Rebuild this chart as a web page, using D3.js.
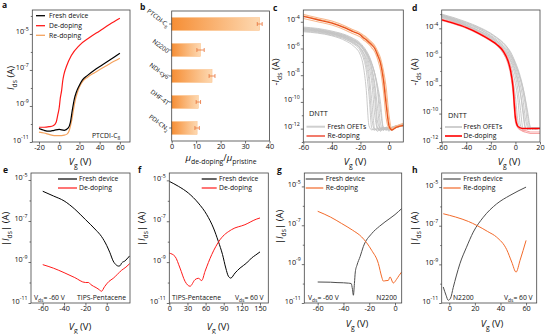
<!DOCTYPE html>
<html><head><meta charset="utf-8">
<script src="https://cdn.jsdelivr.net/npm/d3@7"></script>
<style>
body{margin:0;background:#fff;}
svg text{font-family:"Open Sans","Liberation Sans",Arial,sans-serif;fill:#111;}
</style></head><body>
<svg id="chart" width="550" height="334"></svg>
<script>
// ===================== DATA (log10 of current in A) =====================
// Panel a : PTCDI-C8
const aVgFresh = [-20,-15,-10,-5,0,5,9,11,13,15,17,19.5,23,28,35,41,50,60];
const aLogFresh = [-10.25,-10.35,-10.4,-10.35,-10.3,-10.35,-10.22,-9.92,-9.22,-8.6,-8.22,-7.9,-7.55,-7.3,-7.0,-6.78,-6.45,-6.07];
const aVgDe = [-20,-15,-10,-6,-3,-1.5,0,1,2.4,3.5,4.7,7.3,12,20,30,40,50,60];
const aLogDe = [-10.18,-10.18,-10.15,-10.1,-9.9,-9.52,-9.1,-8.6,-8.13,-7.6,-7.24,-6.78,-6.2,-5.63,-5.2,-4.83,-4.46,-4.13];
const aVgRe = [-20,-15,-10,-5,0,5,8,10,12,14,16,18,20,23,28,35,41,50,60];
const aLogRe = [-10.45,-10.5,-10.58,-10.65,-10.65,-10.62,-10.55,-10.35,-9.9,-9.25,-8.65,-8.25,-7.95,-7.65,-7.4,-7.15,-6.95,-6.65,-6.35];

// Panel b : mobility ratio
const bCats = ["PTCDI-C8","N2200","NDI-cy6","DHF-4T","PDI-CN2"];
const bRatio = [36,11.8,16.5,10.9,10.4];
const bErr = [1.0,1.5,1.2,0.9,0.9];
const bXTicks = [0,10,20,30,40];

// Panel c : DNTT fresh (grey) vs re-doping
const cVg = [-60,-50,-40,-30,-25,-20,-18,-16,-14,-12,-10,-8,-6,-4,-2,0,2,5,10];
const cLogFresh = [
 [-4.75,-4.85,-5.05,-5.45,-5.8,-6.5,-7.3,-9.0,-11.8,-12.1,-12.0,-12.2,-12.0,-12.1,-11.9,-12.0,-12.1,-11.9,-11.8],
 [-4.7,-4.8,-5.0,-5.35,-5.65,-6.2,-6.7,-7.6,-9.5,-12.0,-12.1,-11.9,-12.2,-12.0,-12.1,-11.9,-12.0,-11.9,-11.8],
 [-4.6,-4.7,-4.9,-5.25,-5.55,-6.05,-6.5,-7.2,-8.5,-11.2,-12.1,-12.0,-11.9,-12.1,-12.0,-12.2,-11.9,-11.9,-11.7],
 [-4.55,-4.65,-4.85,-5.2,-5.5,-5.95,-6.3,-6.9,-7.9,-10.0,-12.0,-12.1,-12.0,-11.9,-12.1,-12.0,-12.0,-11.8,-11.8],
 [-4.65,-4.75,-4.95,-5.3,-5.6,-6.0,-6.3,-6.7,-7.4,-8.6,-11.0,-12.0,-12.1,-12.0,-11.9,-12.0,-12.1,-11.9,-11.8],
 [-4.5,-4.6,-4.8,-5.1,-5.4,-5.8,-6.1,-6.5,-7.1,-8.0,-9.8,-12.0,-12.1,-11.9,-12.0,-12.1,-11.9,-11.8,-11.7],
 [-4.45,-4.55,-4.75,-5.05,-5.3,-5.7,-5.95,-6.3,-6.8,-7.6,-9.0,-11.5,-12.0,-12.1,-12.0,-11.9,-12.0,-11.8,-11.8],
 [-4.6,-4.7,-4.9,-5.2,-5.45,-5.8,-6.05,-6.4,-6.85,-7.5,-8.6,-10.5,-12.1,-12.0,-12.0,-12.1,-11.9,-11.9,-11.7],
 [-4.4,-4.5,-4.7,-5.0,-5.25,-5.6,-5.85,-6.15,-6.55,-7.1,-7.9,-9.2,-11.6,-12.1,-11.9,-12.0,-12.0,-11.8,-11.7],
 [-4.5,-4.6,-4.8,-5.1,-5.35,-5.7,-5.95,-6.25,-6.65,-7.2,-7.9,-9.0,-10.6,-12.0,-12.1,-11.9,-12.0,-11.9,-11.8],
 [-4.55,-4.65,-4.85,-5.15,-5.4,-5.75,-6.0,-6.3,-6.7,-7.2,-7.85,-8.8,-10.0,-11.9,-12.0,-12.1,-11.9,-11.8,-11.7]
];
const cLogReBand = [
 [-3.45,-3.7,-3.95,-4.35,-4.6,-4.85,-5.0,-5.15,-5.35,-5.55,-5.8,-6.2,-6.7,-7.6,-8.9,-11.0,-12.0,-11.9,-11.7],
 [-3.75,-4.0,-4.25,-4.65,-4.9,-5.15,-5.35,-5.5,-5.7,-5.95,-6.25,-6.8,-7.6,-9.1,-11.2,-12.0,-12.1,-11.8,-11.8],
 [-3.55,-3.8,-4.05,-4.45,-4.7,-4.95,-5.1,-5.25,-5.45,-5.65,-5.9,-6.35,-6.9,-7.9,-9.6,-11.5,-12.0,-11.8,-11.6]
];
const cLogRe = [-3.6,-3.85,-4.1,-4.5,-4.75,-5.0,-5.2,-5.35,-5.55,-5.75,-6.0,-6.5,-7.1,-8.3,-10.2,-11.8,-12.1,-11.9,-11.75];

// Panel d : DNTT fresh (grey) vs de-doping
const dVg = [-60,-50,-40,-30,-20,-15,-10,-6,-4,-2,0,2,4,6,8,10,12,14,16,20];
const dLogFresh = [
 [-3.25,-3.55,-3.9,-4.3,-4.8,-5.2,-5.75,-6.4,-6.9,-7.7,-8.8,-10.5,-11.0,-11.1,-11.0,-11.1,-11.0,-11.1,-11.0,-11.05],
 [-3.2,-3.5,-3.85,-4.25,-4.75,-5.1,-5.6,-6.15,-6.55,-7.15,-7.9,-9.0,-10.8,-11.1,-11.0,-11.1,-11.0,-11.0,-11.1,-11.0],
 [-3.1,-3.4,-3.75,-4.15,-4.65,-5.0,-5.45,-5.95,-6.3,-6.8,-7.4,-8.3,-9.6,-11.0,-11.1,-11.0,-11.1,-11.0,-11.0,-11.05],
 [-3.05,-3.35,-3.7,-4.05,-4.55,-4.9,-5.3,-5.75,-6.05,-6.45,-6.95,-7.6,-8.5,-9.9,-11.0,-11.1,-11.0,-11.1,-11.0,-11.0],
 [-3.15,-3.45,-3.8,-4.15,-4.6,-4.9,-5.25,-5.65,-5.95,-6.3,-6.75,-7.3,-8.0,-8.9,-10.3,-11.0,-11.1,-11.0,-11.0,-11.05],
 [-3.05,-3.3,-3.6,-3.95,-4.4,-4.7,-5.05,-5.45,-5.75,-6.1,-6.5,-7.0,-7.6,-8.4,-9.4,-10.8,-11.1,-11.0,-11.1,-11.0],
 [-3.0,-3.25,-3.55,-3.9,-4.35,-4.65,-5.0,-5.4,-5.65,-6.0,-6.4,-6.85,-7.4,-8.1,-9.0,-10.2,-11.1,-11.0,-11.1,-11.0],
 [-3.1,-3.35,-3.65,-4.0,-4.5,-4.8,-5.15,-5.55,-5.85,-6.2,-6.6,-7.05,-7.55,-8.15,-8.95,-9.9,-10.9,-11.1,-11.0,-11.0],
 [-3.15,-3.45,-3.8,-4.2,-4.7,-5.0,-5.4,-5.85,-6.2,-6.6,-7.1,-7.8,-8.6,-9.6,-10.9,-11.1,-11.0,-11.1,-11.0,-11.0]
];
const dLogDeBand = [
 [-3.35,-3.6,-3.9,-4.3,-4.8,-5.1,-5.5,-6.1,-6.7,-7.7,-9.6,-10.9,-11.1,-11.2,-11.2,-11.25,-11.3,-11.3,-11.3,-11.3],
 [-3.45,-3.7,-4.0,-4.4,-4.9,-5.2,-5.7,-6.5,-7.2,-8.5,-10.6,-11.0,-11.15,-11.25,-11.3,-11.35,-11.4,-11.4,-11.4,-11.4]
];
const dLogDe = [-3.4,-3.65,-3.95,-4.35,-4.85,-5.15,-5.6,-6.3,-6.95,-8.1,-10.3,-10.9,-11.0,-11.05,-11.05,-11.05,-11.05,-11.05,-11.05,-11.05];

// Panel e : TIPS-Pentacene, Vds=-60 V
const eVgFresh = [-60,-50,-40,-30,-20,-10,-5,0,3,6,9,11,12.5,14,17,19,21.5];
const eLogFresh = [-5.55,-5.78,-6.02,-6.42,-6.93,-7.45,-7.75,-8.2,-8.55,-8.95,-9.15,-9.2,-9.18,-9.05,-8.95,-8.85,-8.7];
const eVgDe = [-60,-50,-40,-30,-20,-17,-15,-10,-7,-5,-2,2,6,10,14,18,21.5];
const eLogDe = [-9.13,-9.3,-9.52,-9.76,-10.0,-10.0,-10.1,-10.25,-10.35,-10.43,-10.2,-9.95,-9.8,-9.6,-9.4,-9.25,-9.08];

// Panel f : TIPS-Pentacene, Vds=60 V
const fVgFresh = [0,15,31.5,48,62,73,81,88,93.4,97.7,101.6,108.8,117,128,136,143,150];
const fLogFresh = [-5.05,-5.29,-5.62,-6.11,-6.68,-7.33,-7.98,-8.63,-9.29,-9.69,-9.78,-9.53,-9.29,-9.04,-8.8,-8.65,-8.5];
const fVgDe = [0,9.4,17.7,26,34.3,42.5,48,53.6,59.1,70.2,84,103,125,144.7,150];
const fLogDe = [-8.56,-8.72,-9.29,-9.94,-10.18,-9.86,-9.79,-9.9,-9.45,-8.63,-7.9,-7.41,-7.17,-6.89,-6.84];

// Panel g : N2200, Vds=-60 V
const gVgFresh = [-60,-50,-45,-40,-36,-34,-33,-32.3,-31.5,-30.8,-29.5,-27,-24.6,-18.1,-12,-7.8,0,5.2];
const gLogFresh = [-9.92,-9.93,-9.95,-9.96,-9.98,-10.0,-10.3,-10.6,-10.0,-9.4,-9.05,-8.6,-8.1,-7.43,-7.05,-6.83,-6.45,-6.14];
const gVgRe = [-60,-50,-41.4,-33,-25.9,-18.1,-12.9,-10.3,-9.1,-7,-5.2,-3.9,-1.3,1,3,5.2];
const gLogRe = [-6.28,-6.58,-6.91,-7.25,-7.6,-8.29,-8.97,-9.66,-9.87,-9.85,-9.84,-9.66,-9.97,-9.8,-9.6,-9.4];

// Panel h : N2200, Vds=60 V
const hVgFresh = [-4.7,-2.5,-0.8,1,3.1,5.5,8.3,13.5,18.75,26.6,37,47.4,60];
const hLogFresh = [-10.17,-10.6,-10.86,-10.75,-10.2,-9.6,-8.97,-8.11,-7.33,-6.56,-5.87,-5.43,-5.0];
const hVgRe = [-4.7,5,15,21.4,30,37,44.9,48.8,52.2,55.3,60];
const hLogRe = [-6.38,-6.55,-6.78,-6.98,-7.3,-7.59,-8.24,-8.88,-9.4,-8.79,-7.76];

// ===================== DRAWING =====================
const svg = d3.select("#chart");
const defs = svg.append("defs");
let clipN = 0;
const TICK_FS = 7.3;

function rich(sel, parts, size){
  let shift = 0;
  parts.forEach(p => {
    const s = Array.isArray(p) ? p[0] : p;
    const k = Array.isArray(p) ? p[1] : "";
    let target = 0, fs = size;
    if (k.includes("sub")) { target = size*0.3; fs = size*0.72; }
    if (k.includes("sup")) { target = -size*0.45; fs = size*0.72; }
    const t = sel.append("tspan").text(s).attr("font-size", fs).attr("dy", (target - shift).toFixed(2));
    if (k.includes("i")) t.attr("font-style","italic");
    shift = target;
  });
}

function styleAxis(ax){
  ax.attr("font-family", null).attr("font-size", null);
  ax.select(".domain").remove();
  ax.selectAll(".tick line").attr("stroke","#333").attr("stroke-width",0.7);
  ax.selectAll(".tick text").attr("font-size",TICK_FS).attr("fill","#111");
}

function panel(o){
  const x = d3.scaleLinear().domain(o.xd).range(o.xr);
  const y = d3.scaleLog().domain([Math.pow(10,o.yd[0]), Math.pow(10,o.yd[1])]).range([o.yr[1], o.yr[0]]);
  const g = svg.append("g");
  const id = "clip" + (clipN++);
  defs.append("clipPath").attr("id", id).append("rect")
    .attr("x", o.xr[0]).attr("y", o.yr[0]).attr("width", o.xr[1]-o.xr[0]).attr("height", o.yr[1]-o.yr[0]);
  const plot = g.append("g").attr("clip-path", `url(#${id})`);
  const xa = g.append("g").attr("transform", `translate(0,${o.yr[1]})`)
    .call(d3.axisBottom(x).tickValues(o.xt).tickSize(2.5).tickPadding(0.8).tickFormat(d => String(d)));
  styleAxis(xa);
  const ya = g.append("g").attr("transform", `translate(${o.xr[0]},0)`)
    .call(d3.axisLeft(y).tickValues(o.yt.map(e => Math.pow(10,e))).tickSize(2.5).tickPadding(1));
  styleAxis(ya);
  ya.selectAll(".tick text").each(function(d, i){
    const t = d3.select(this); t.text(null);
    rich(t, ["10", [String(o.yt[i]), "sup"]], TICK_FS);
  });
  if (o.ym) {
    const ym = g.append("g").attr("transform", `translate(${o.xr[0]},0)`)
      .call(d3.axisLeft(y).tickValues(o.ym.map(e => Math.pow(10,e))).tickSize(1.5).tickFormat(""));
    styleAxis(ym);
  }
  g.append("rect").attr("x", o.xr[0]).attr("y", o.yr[0])
    .attr("width", o.xr[1]-o.xr[0]).attr("height", o.yr[1]-o.yr[0])
    .attr("fill","none").attr("stroke","#444").attr("stroke-width",0.8);
  return {x, y, g, plot};
}

function curve(P, vg, logs, color, w, op){
  const pts = vg.map((v, i) => [v, logs[i]]);
  const line = d3.line().x(d => P.x(d[0])).y(d => P.y(Math.pow(10, d[1]))).curve(d3.curveMonotoneX);
  P.plot.append("path").datum(pts).attr("d", line)
    .attr("fill","none").attr("stroke", color).attr("stroke-width", w)
    .attr("stroke-opacity", op == null ? 1 : op).attr("stroke-linejoin","round");
}

function label(x, y, parts, size, opts){
  opts = opts || {};
  const t = svg.append("text").attr("x", x).attr("y", y).attr("font-size", size)
    .attr("text-anchor", opts.anchor || "start");
  if (opts.bold) t.attr("font-weight","bold");
  rich(t, parts, size);
  return t;
}
function vlabel(x, y, parts, size){
  const t = svg.append("text").attr("transform", `translate(${x},${y}) rotate(-90)`)
    .attr("font-size", size).attr("text-anchor","middle");
  rich(t, parts, size);
}
function legendItem(x0, x1, tx, y, color, w, text){
  svg.append("line").attr("x1", x0).attr("x2", x1).attr("y1", y).attr("y2", y)
    .attr("stroke", color).attr("stroke-width", w);
  label(tx, y + 2.4, [text], 6.8);
}

const IDS = [["I","i"],["ds","sub"]," (A)"];
const MIDS = ["-",["I","i"],["ds","sub"]," (A)"];
const ABSIDS = ["|",["I","i"],["ds","sub"],"| (A)"];
const VG = [["V","i"],["g","sub"]," (V)"];

// ---- panel letters
[["a",2,8],["b",140,10],["c",273,11],["d",412,11],["e",3,173],["f",138,173],["g",277,173],["h",412,173]]
  .forEach(([s,x,y]) => label(x, y, [s], 8.5, {bold:true}));

// ---- Panel a
const PA = panel({xr:[32.3,130], yr:[10,142], xd:[-26.6,70], yd:[-11,-3.67], xt:[-20,0,20,40,60], yt:[-11,-9,-7,-5], ym:[-10,-8,-6,-4]});
curve(PA, aVgRe, aLogRe, "#f5a35e", 1.2);
curve(PA, aVgFresh, aLogFresh, "#000", 1.2);
curve(PA, aVgDe, aLogDe, "#ff1a1a", 1.2);
legendItem(36, 45, 49, 15.7, "#000", 1.3, "Fresh device");
legendItem(36, 45, 49, 25.7, "#ff1a1a", 1.3, "De-doping");
legendItem(36, 45, 49, 35.3, "#f5a35e", 1.3, "Re-doping");
label(92, 137.5, ["PTCDI-C",["8","sub"]], 6.8);
vlabel(14, 78, IDS, 9.5);
label(80, 165, VG, 9.5, {anchor:"middle"});

// ---- Panel b
const bx = d3.scaleLinear().domain([0,40]).range([171.7,269.5]);
const by = d3.scaleBand().domain(bCats).range([11,141]).paddingInner(0.5).paddingOuter(0.25);
const grad = defs.append("linearGradient").attr("id","barGrad").attr("x1","0%").attr("x2","100%");
grad.append("stop").attr("offset","0%").attr("stop-color","#f68e35");
grad.append("stop").attr("offset","100%").attr("stop-color","#fdd9b2");
const gb = svg.append("g");
gb.selectAll("rect.bar").data(bCats).enter().append("rect").attr("class","bar")
  .attr("x", bx(0)).attr("y", d => by(d)).attr("height", by.bandwidth())
  .attr("width", (d,i) => bx(bRatio[i]) - bx(0))
  .attr("fill","url(#barGrad)").attr("stroke","#fbbf86").attr("stroke-width",0.5);
bCats.forEach((c, i) => {
  const cy = by(c) + by.bandwidth()/2;
  const xl = bx(bRatio[i]-bErr[i]), xr = bx(bRatio[i]+bErr[i]);
  gb.append("line").attr("x1", xl).attr("x2", xr).attr("y1", cy).attr("y2", cy).attr("stroke","#e8733a").attr("stroke-width",0.8);
  [xl, xr].forEach(xx => gb.append("line").attr("x1", xx).attr("x2", xx).attr("y1", cy-2).attr("y2", cy+2).attr("stroke","#e8733a").attr("stroke-width",0.8));
});
const bxa = gb.append("g").attr("transform","translate(0,141)")
  .call(d3.axisBottom(bx).tickValues(bXTicks).tickSize(2.5).tickPadding(0.8));
styleAxis(bxa);
const bya = gb.append("g").attr("transform",`translate(${bx(0)},0)`)
  .call(d3.axisLeft(by).tickSize(2.5).tickFormat(""));
styleAxis(bya);
gb.append("rect").attr("x", bx(0)).attr("y", 11).attr("width", bx(40)-bx(0)).attr("height", 130)
  .attr("fill","none").attr("stroke","#444").attr("stroke-width",0.8);
const bLabelParts = [["PTCDI-C",["8","sub"]],["N2200"],["NDI-cy6"],["DHF-4T"],["PDI-CN",["2","sub"]]];
bCats.forEach((c, i) => {
  const cy = by(c) + by.bandwidth()/2;
  const t = svg.append("text").attr("transform", `translate(167,${cy+3.5}) rotate(37)`)
    .attr("font-size", 6.2).attr("text-anchor","end");
  rich(t, bLabelParts[i], 6.2);
});
label(221, 161, [["μ","i"],["de-doping","sub"],"/",["μ","i"],["pristine","sub"]], 9.5, {anchor:"middle"});

// ---- Panel c
const PC = panel({xr:[303.3,403.3], yr:[10,142], xd:[-60,10], yd:[-13,-3.12], xt:[-60,-40,-20,0], yt:[-12,-10,-8,-6,-4], ym:[-13,-11,-9,-7,-5]});
cLogFresh.forEach(arr => curve(PC, cVg, arr, "#c4c4c4", 0.9));
cLogReBand.forEach(arr => curve(PC, cVg, arr, "#f8b98f", 1.1));
curve(PC, cVg, cLogRe, "#e8531c", 1.3);
label(309, 116, ["DNTT"], 7.3);
legendItem(306.5, 325, 327.5, 126.7, "#cfcfcf", 2, "Fresh OFETs");
legendItem(306.5, 325, 327.5, 136, "#f27b6b", 2, "Re-doping");
vlabel(279, 72, MIDS, 9.5);
label(355, 165, VG, 9.5, {anchor:"middle"});

// ---- Panel d
const PD = panel({xr:[441.7,540], yr:[10,142], xd:[-60,20], yd:[-12,-2.71], xt:[-60,-40,-20,0,20], yt:[-12,-10,-8,-6,-4], ym:[-11,-9,-7,-5,-3]});
dLogFresh.forEach(arr => curve(PD, dVg, arr, "#c4c4c4", 0.9));
dLogDeBand.forEach(arr => curve(PD, dVg, arr, "#f7a5a5", 1.1));
curve(PD, dVg, dLogDe, "#ff0000", 1.4);
label(448, 117.5, ["DNTT"], 7.3);
legendItem(445, 462, 463.5, 127, "#cfcfcf", 2, "Fresh OFETs");
legendItem(445, 462, 463.5, 136, "#ff0000", 1.6, "De-doping");
vlabel(418, 72, MIDS, 9.5);
label(509, 165, VG, 9.5, {anchor:"middle"});

// ---- Panel e
const PE = panel({xr:[31,130], yr:[173,303], xd:[-71,21.8], yd:[-11,-4.66], xt:[-60,-40,-20,0], yt:[-11,-9,-7,-5], ym:[-10,-8,-6]});
curve(PE, eVgFresh, eLogFresh, "#000", 1);
curve(PE, eVgDe, eLogDe, "#ff1a1a", 1);
legendItem(58, 77, 79, 179, "#000", 1.2, "Fresh device");
legendItem(58, 77, 79, 188, "#ff1a1a", 1.2, "De-doping");
label(34, 299.5, [["V",""],["ds","sub"],"= -60 V"], 6.8);
label(77, 299.5, ["TIPS-Pentacene"], 6.8);
vlabel(9, 229, ABSIDS, 9.5);
label(80, 330, VG, 9.5, {anchor:"middle"});

// ---- Panel f
const PF = panel({xr:[169.3,268.3], yr:[173,303], xd:[0,163.7], yd:[-11,-4.64], xt:[0,30,60,90,120,150], yt:[-11,-9,-7,-5], ym:[-10,-8,-6]});
curve(PF, fVgFresh, fLogFresh, "#000", 1);
curve(PF, fVgDe, fLogDe, "#ff1a1a", 1);
legendItem(201.7, 216.7, 219, 179, "#000", 1.2, "Fresh device");
legendItem(201.7, 216.7, 219, 188, "#ff1a1a", 1.2, "De-doping");
label(172, 299.5, ["TIPS-Pentacene"], 6.8);
label(235, 299.5, [["V",""],["ds","sub"],"= 60 V"], 6.8);
vlabel(145, 229, ABSIDS, 9.5);
label(218, 330, VG, 9.5, {anchor:"middle"});

// ---- Panel g
const PG = panel({xr:[304.3,401.7], yr:[173,303], xd:[-70.4,5.2], yd:[-11,-4.31], xt:[-60,-40,-20,0], yt:[-11,-9,-7,-5], ym:[-10,-8,-6]});
curve(PG, gVgFresh, gLogFresh, "#4d4d4d", 1);
curve(PG, gVgRe, gLogRe, "#f26a2a", 1);
legendItem(305.7, 323.3, 325.7, 179, "#4d4d4d", 1.2, "Fresh device");
legendItem(305.7, 323.3, 325.7, 188, "#f26a2a", 1.2, "Re-doping");
label(308, 299.5, [["V",""],["ds","sub"],"= -60 V"], 6.8);
label(397, 299.5, ["N2200"], 6.8, {anchor:"end"});
vlabel(283, 227, ABSIDS, 9.5);
label(357, 327, VG, 9.5, {anchor:"middle"});

// ---- Panel h
const PH = panel({xr:[441.7,536.7], yr:[173,303], xd:[-5.9,68.3], yd:[-11,-4.27], xt:[0,20,40,60], yt:[-11,-9,-7,-5], ym:[-10,-8,-6]});
curve(PH, hVgFresh, hLogFresh, "#4d4d4d", 1);
curve(PH, hVgRe, hLogRe, "#f26a2a", 1);
legendItem(443.3, 460.7, 463.3, 179, "#4d4d4d", 1.2, "Fresh device");
legendItem(443.3, 460.7, 463.3, 188, "#f26a2a", 1.2, "Re-doping");
label(453, 299.5, ["N2200"], 6.8);
label(504, 299.5, [["V",""],["ds","sub"],"= 60 V"], 6.8);
vlabel(418, 229, ABSIDS, 9.5);
label(492, 327, VG, 9.5, {anchor:"middle"});
</script>
</body></html>
